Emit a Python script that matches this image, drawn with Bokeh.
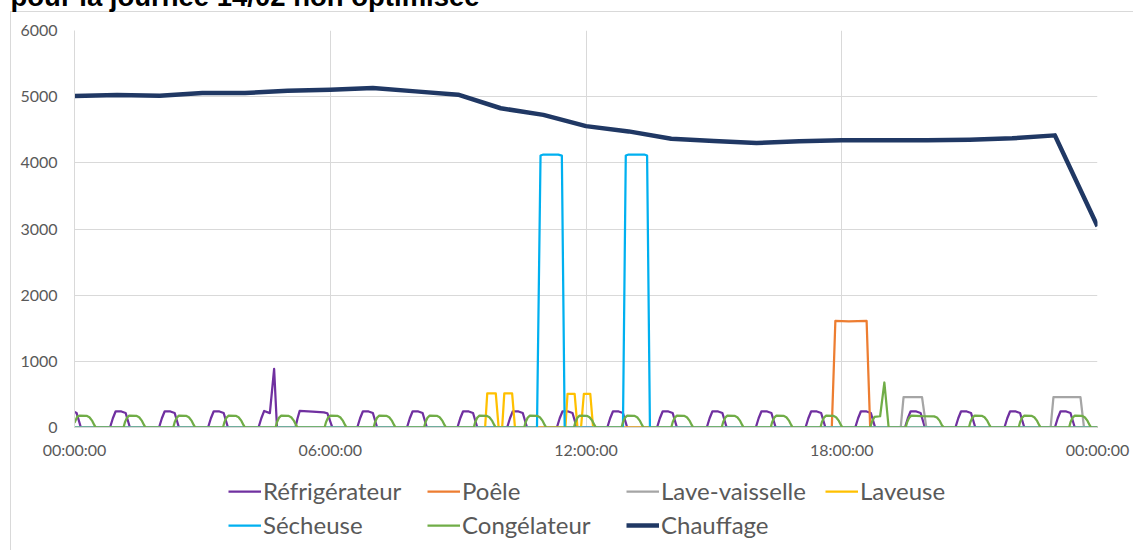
from bokeh.plotting import figure
from bokeh.layouts import column
from bokeh.models import Range1d, FixedTicker, Legend, LegendItem
from bokeh.embed import file_html
from bokeh.resources import INLINE

TITLE = "pour la journée 14/02 non optimisée"
NAMES = ["Réfrigérateur", "Poêle", "Lave-vaisselle", "Laveuse", "Sécheuse", "Congélateur", "Chauffage"]
COLORS = ["#7030A0", "#ED7D31", "#A5A5A5", "#FFC000", "#00B0F0", "#70AD47", "#203864"]
X_TICKS = [0, 360, 720, 1080, 1440]          # minutes
X_TICK_LABELS = ["00:00:00", "06:00:00", "12:00:00", "18:00:00", "00:00:00"]
Y_TICKS = [0, 1000, 2000, 3000, 4000, 5000, 6000]

# (minute, watts) vertices
REFRIGERATEUR = [
    (0, 235), (3, 218), (9, 0),
    (50, 0), (54, 140), (58, 245), (66, 242), (72, 220), (78, 0),
    (119, 0), (123, 140), (127, 245), (135, 242), (141, 220), (147, 0),
    (188, 0), (192, 140), (196, 245), (204, 242), (210, 220), (216, 0),
    (259, 0), (263, 140), (267, 250), (275, 218), (281, 885), (285, 0),
    (311, 0), (314, 140), (317, 252), (335, 240), (351, 228), (356, 215), (363, 0),
    (398, 0), (402, 140), (406, 245), (414, 242), (420, 220), (426, 0),
    (468, 0), (472, 140), (476, 245), (484, 242), (490, 220), (496, 0),
    (539, 0), (543, 140), (547, 245), (555, 242), (561, 220), (567, 0),
    (609, 0), (613, 140), (617, 245), (625, 242), (631, 220), (637, 0),
    (679, 0), (683, 140), (687, 245), (695, 242), (701, 220), (707, 0),
    (750, 0), (754, 140), (758, 245), (766, 242), (772, 220), (778, 0),
    (820, 0), (824, 140), (828, 245), (836, 242), (842, 220), (848, 0),
    (890, 0), (894, 140), (898, 245), (906, 242), (912, 220), (918, 0),
    (959, 0), (963, 140), (967, 245), (975, 242), (981, 220), (987, 0),
    (1029, 0), (1033, 140), (1037, 245), (1045, 242), (1051, 220), (1057, 0),
    (1099, 0), (1103, 140), (1107, 245), (1115, 242), (1121, 220), (1127, 0),
    (1169, 0), (1173, 140), (1177, 245), (1185, 242), (1191, 220), (1197, 0),
    (1240, 0), (1244, 140), (1248, 245), (1256, 242), (1262, 220), (1268, 0),
    (1309, 0), (1313, 140), (1317, 245), (1325, 242), (1331, 220), (1337, 0),
    (1380, 0), (1384, 140), (1388, 245), (1396, 242), (1402, 220), (1408, 0),
    (1440, 0),
]

POELE = [(0, 0), (1066, 0), (1071, 1610), (1090, 1605), (1115, 1610), (1120, 0), (1440, 0)]

LAVE_VAISSELLE = [(0, 0), (1163, 0), (1167, 460), (1193, 460), (1199, 0),
                  (1374, 0), (1378, 460), (1416, 460), (1421, 0), (1440, 0)]

LAVEUSE = [(0, 0), (578, 0), (581, 515), (593, 515), (597, 0),
           (602, 0), (605, 515), (616, 515), (620, 0),
           (691, 0), (694, 510), (704, 510), (708, 0),
           (713, 0), (717, 510), (726, 510), (730, 0), (1440, 0)]

SECHEUSE = [(0, 0), (651, 0), (656, 4110), (660, 4125), (681, 4125), (686, 4110), (690, 0),
            (772, 0), (776, 4110), (780, 4125), (802, 4125), (806, 4110), (810, 0), (1440, 0)]

CONGELATEUR = [
    (0, 70), (4, 165), (7, 178), (17, 176), (21, 155), (25, 100), (28, 35), (30, 0),
    (69, 0), (71, 80), (74, 150), (77, 178), (87, 176), (91, 155), (95, 100), (98, 35), (100, 0),
    (139, 0), (141, 80), (144, 150), (147, 178), (157, 176), (161, 155), (165, 100), (168, 35), (170, 0),
    (209, 0), (211, 80), (214, 150), (217, 178), (227, 176), (231, 155), (235, 100), (238, 35), (240, 0),
    (283, 0), (285, 80), (288, 150), (291, 178), (301, 176), (305, 155), (309, 100), (312, 35), (314, 0),
    (352, 0), (354, 80), (357, 150), (360, 178), (370, 176), (374, 155), (378, 100), (381, 35), (383, 0),
    (421, 0), (423, 80), (426, 150), (429, 178), (439, 176), (443, 155), (447, 100), (450, 35), (452, 0),
    (492, 0), (494, 80), (497, 150), (500, 178), (510, 176), (514, 155), (518, 100), (521, 35), (523, 0),
    (562, 0), (564, 80), (567, 150), (570, 178), (580, 176), (584, 155), (588, 100), (591, 35), (593, 0),
    (633, 0), (635, 80), (638, 150), (641, 178), (651, 176), (655, 155), (659, 100), (662, 35), (664, 0),
    (703, 0), (705, 80), (708, 150), (711, 178), (721, 176), (725, 155), (729, 100), (732, 35), (734, 0),
    (770, 0), (772, 80), (775, 150), (778, 178), (788, 176), (792, 155), (796, 100), (799, 35), (801, 0),
    (840, 0), (842, 80), (845, 150), (848, 178), (858, 176), (862, 155), (866, 100), (869, 35), (871, 0),
    (911, 0), (913, 80), (916, 150), (919, 178), (929, 176), (933, 155), (937, 100), (940, 35), (942, 0),
    (980, 0), (982, 80), (985, 150), (988, 178), (998, 176), (1002, 155), (1006, 100), (1009, 35), (1011, 0),
    (1050, 0), (1052, 80), (1055, 150), (1058, 178), (1068, 176), (1072, 155), (1076, 100), (1079, 35), (1081, 0),
    (1120, 0), (1123, 100), (1126, 160), (1134, 170), (1140, 680), (1146, 0),
    (1170, 0), (1172, 80), (1175, 150), (1178, 180), (1192, 172), (1210, 168), (1214, 150), (1218, 100), (1221, 35), (1224, 0),
    (1259, 0), (1261, 80), (1264, 150), (1267, 178), (1277, 176), (1281, 155), (1285, 100), (1288, 35), (1290, 0),
    (1329, 0), (1331, 80), (1334, 150), (1337, 178), (1347, 176), (1351, 155), (1355, 100), (1358, 35), (1360, 0),
    (1400, 0), (1402, 80), (1405, 150), (1408, 178), (1418, 176), (1422, 155), (1426, 100), (1429, 35), (1431, 0),
    (1440, 0),
]

CHAUFFAGE_HOURS = list(range(25))
CHAUFFAGE_W = [5010, 5025, 5015, 5055, 5055, 5090, 5105, 5130, 5080, 5030, 4825, 4725, 4555,
               4475, 4365, 4330, 4300, 4325, 4340, 4340, 4340, 4350, 4370, 4415, 3040]
CHAUFFAGE = [(h * 60, w) for h, w in zip(CHAUFFAGE_HOURS, CHAUFFAGE_W)]

SERIES = [REFRIGERATEUR, POELE, LAVE_VAISSELLE, LAVEUSE, SECHEUSE, CONGELATEUR, CHAUFFAGE]
WIDTHS = [2.25, 2.25, 2.25, 2.25, 2.25, 2.25, 4.5]

TXT = "#595959"
GRID = "#D9D9D9"
FONT = "Lato"

SHIFT = 40   # canvas pulled up so the title is cut at the page top, as in the picture
MAIN_H = 30 + SHIFT + 397 + 40
LEG_H = 550 - (MAIN_H - SHIFT)
CSS_MAIN = ("linear-gradient(#D9D9D9,#D9D9D9) 10px %dpx / 1px 100%% no-repeat, "
            "linear-gradient(#D9D9D9,#D9D9D9) 10px %dpx / 100%% 1px no-repeat, white") % (SHIFT + 11, SHIFT + 11)
CSS_LEG = "linear-gradient(#D9D9D9,#D9D9D9) 10px 0px / 1px 100% no-repeat, white"

p = figure(width=1133, height=MAIN_H, output_backend="svg", toolbar_location=None,
           x_range=Range1d(0, 1440), y_range=Range1d(0, 6000),
           min_border_left=74, min_border_right=36, min_border_top=30 + SHIFT,
           min_border_bottom=40,
           margin=(-SHIFT, 0, 0, 0), styles={"background": CSS_MAIN})
p.outline_line_color = None
p.background_fill_color = "white"
p.border_fill_alpha = 0

p.title.text = TITLE
p.title.align = "left"
p.title.offset = -64
p.title.standoff = 37
p.title.text_font = "Liberation Sans"
p.title.text_font_style = "bold"
p.title.text_font_size = "27.5px"
p.title.text_color = "black"

series_xy = []
for data, color, w in zip(SERIES, COLORS, WIDTHS):
    xs = [t for t, _ in data]
    ys = [v for _, v in data]
    series_xy.append((xs, ys))
    p.line(xs, ys, line_color=color, line_width=w, line_join="round")

p.xaxis.ticker = FixedTicker(ticks=X_TICKS)
p.xaxis.major_label_overrides = {t: l for t, l in zip(X_TICKS, X_TICK_LABELS)}
p.yaxis.ticker = FixedTicker(ticks=Y_TICKS)
p.xgrid.ticker = FixedTicker(ticks=X_TICKS)
p.ygrid.ticker = FixedTicker(ticks=Y_TICKS)
for g in (p.xgrid, p.ygrid):
    g.grid_line_color = GRID
    g.grid_line_width = 1
for ax in (p.xaxis, p.yaxis):
    ax.axis_line_color = GRID
    ax.major_tick_line_color = None
    ax.minor_tick_line_color = None
    ax.major_label_text_color = TXT
    ax.major_label_text_font = FONT
    ax.major_label_text_font_size = "16px"
p.xaxis.major_label_standoff = 6
p.yaxis.major_label_standoff = 11

# legend strip below the chart; the same series are drawn there out of view
# so that the legend has their line styles to show
p2 = figure(width=1133, height=LEG_H, output_backend="svg", toolbar_location=None,
            x_range=Range1d(-20, -10), y_range=Range1d(-20, -10),
            x_axis_location=None, y_axis_location=None,
            min_border_left=0, min_border_right=0, min_border_top=0, min_border_bottom=0,
            styles={"background": CSS_LEG})
p2.grid.visible = False
p2.outline_line_color = None
p2.background_fill_alpha = 0
p2.border_fill_alpha = 0
swatches = [p2.line(xs, ys, line_color=c, line_width=w)
            for (xs, ys), c, w in zip(series_xy, COLORS, WIDTHS)]


def legend_row(indices, y):
    return Legend(items=[LegendItem(label=NAMES[i], renderers=[swatches[i]]) for i in indices],
                  location=(154, y), orientation="horizontal",
                  glyph_width=33, glyph_height=20, label_standoff=2, label_width=159,
                  spacing=5, padding=0, margin=0,
                  border_line_color=None, background_fill_alpha=0,
                  label_text_font=FONT, label_text_font_size="24px", label_text_color=TXT)


p2.add_layout(legend_row([0, 1, 2, 3], 44.6))
p2.add_layout(legend_row([4, 5, 6], 10.6))

layout = column(p, p2, spacing=0)
open("out.html", "w").write(file_html(layout, INLINE))
